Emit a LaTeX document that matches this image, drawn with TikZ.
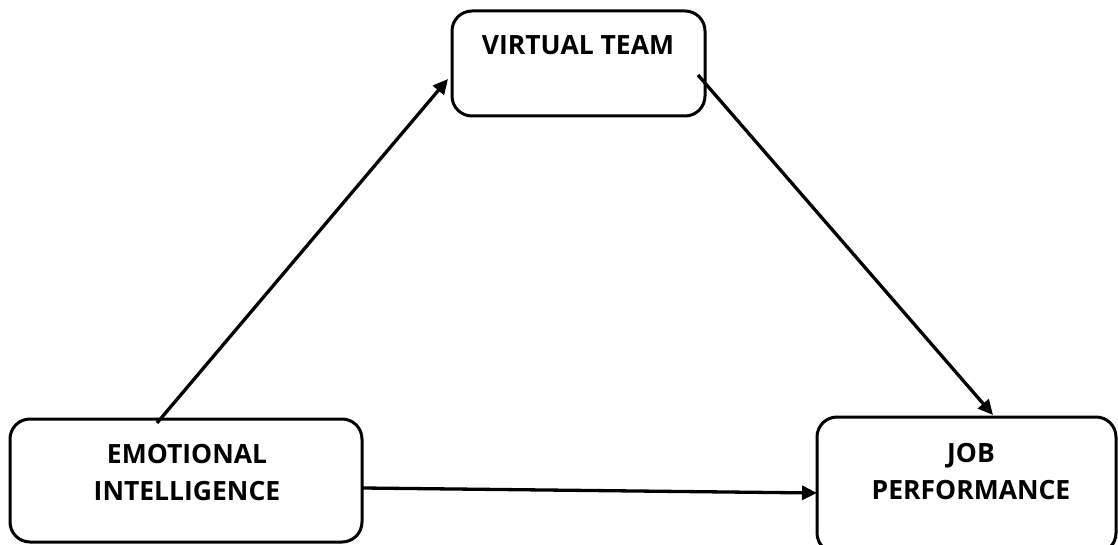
\documentclass[tikz,border=0pt]{standalone}
\usepackage{fontspec}
\setmainfont{Open Sans}
\usetikzlibrary{arrows.meta}
\begin{document}
\begin{tikzpicture}[x=1pt,y=-1pt,
  box/.style={draw, line width=3pt, rounded corners=20pt, inner sep=0pt},
  lbl/.style={font=\fontsize{26.5}{37}\selectfont\bfseries, align=center, inner sep=0pt},
  link/.style={line width=3.3pt, -{Triangle[length=15pt,width=14pt]}}]
\useasboundingbox (0,0) rectangle (1118,545);
\clip (0,0) rectangle (1118,545);
\fill[white] (0,0) rectangle (1118,545);

% boxes
\node[box, minimum width=253pt, minimum height=105pt] (vt) at (578.5,63.5) {};
\node[box, minimum width=352pt, minimum height=123pt] (ei) at (186,480.5) {};
\node[box, minimum width=299pt, minimum height=136pt] (jp) at (966.5,485) {};

% labels
\node[lbl, anchor=base] (vtl) at (578,55) {VIRTUAL TEAM};
\node[lbl] (eil) at (187,473) {EMOTIONAL\\INTELLIGENCE};
\node[lbl] (jpl) at (971,472) {JOB\\PERFORMANCE};

% connector ends
\coordinate (a0) at (157,423);
\coordinate (a1) at (448,79);
\coordinate (b0) at (698,75);
\coordinate (b1) at (993,415);
\coordinate (c0) at (363,488);
\coordinate (c1) at (817,493);

\draw[link] (a0) -- (a1);
\draw[link] (b0) -- (b1);
\draw[link] (c0) -- (c1);
\end{tikzpicture}
\end{document}
